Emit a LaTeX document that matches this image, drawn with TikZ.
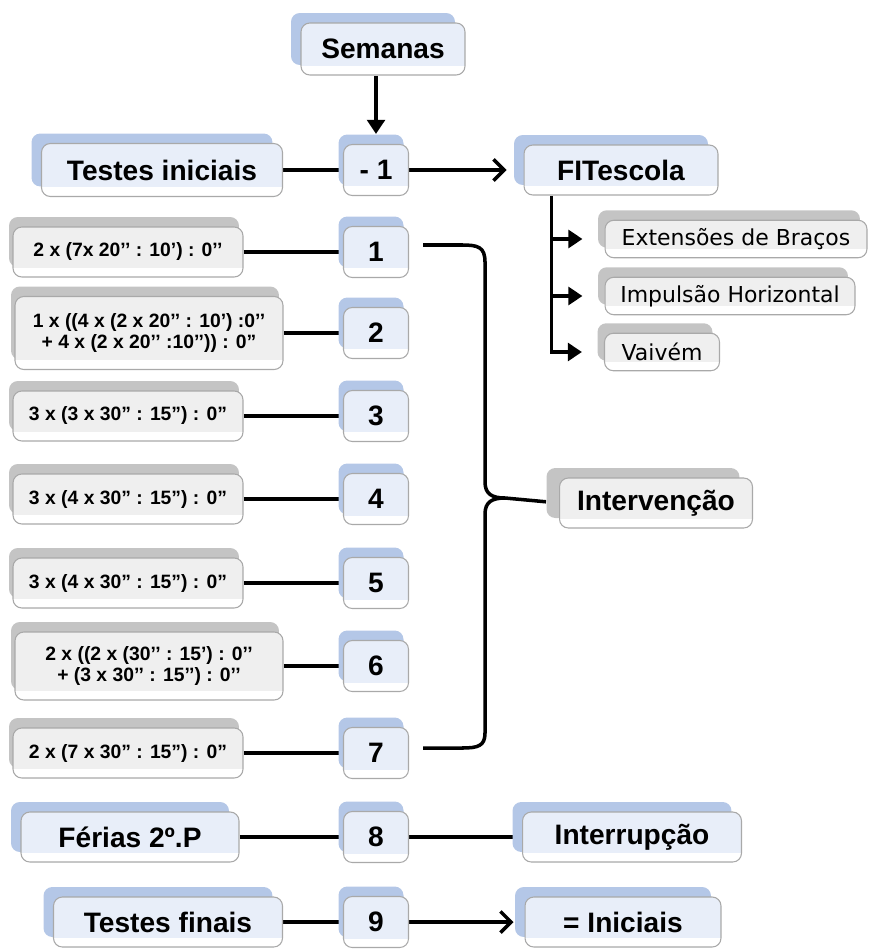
\documentclass[tikz,border=0pt]{standalone}
\usepackage{fontspec}
\setmainfont{Liberation Sans}
\newfontfamily\subfont{DejaVu Sans}
\usetikzlibrary{shadows,arrows.meta,backgrounds}
\definecolor{shblue}{HTML}{B4C7E7}
\definecolor{fblue}{HTML}{E8EEF9}
\definecolor{shgray}{HTML}{C4C4C4}
\definecolor{fgray}{HTML}{EFEFEF}
\definecolor{edgegray}{HTML}{A9A9A9}

\begin{document}
\begin{tikzpicture}[x=0.02cm, y=-0.02cm,
    box/.style={rounded corners=5pt, draw=edgegray, line width=0.6pt, align=center, inner sep=0pt,
        path picture={\fill[white, sharp corners] (path picture bounding box.south west) rectangle ([yshift=0.18cm]path picture bounding box.south east);}},
    bluebox/.style={box, fill=fblue, font=\bfseries\fontsize{16}{19}\selectfont,
        general shadow={shadow xshift=#1, shadow yshift=0.2cm, fill=shblue}},
    bluebox/.default=-0.2cm,
    graybox/.style={box, fill=fgray, general shadow={shadow xshift=#1, shadow yshift=0.2cm, fill=shgray}},
    graybox/.default=-0.2cm,
    numbox/.style={bluebox=-0.1cm, minimum width=1.3cm, minimum height=1.02cm},
    formbox/.style={graybox=-0.08cm, font=\bfseries\fontsize{11}{12.5}\selectfont, minimum height=1cm},
    testbox/.style={graybox=-0.14cm, font=\subfont\fontsize{12.5}{15}\selectfont, minimum height=0.75cm},
    link/.style={line width=2pt},
    barb/.style={link, -{Straight Barb[length=6pt, width=12pt, line width=2pt]}},
    tri/.style={link, -{Triangle[length=8pt, width=10pt]}}]
\useasboundingbox (0,0) rectangle (869,949);

% top
\node[bluebox, minimum width=3.28cm, minimum height=1.04cm] (sem) at (383,49) {Semanas};
\node[bluebox, minimum width=4.82cm, minimum height=1.06cm] (tin) at (162,170) {Testes iniciais};
\node[numbox] (m1) at (376,170) {- 1};
\node[bluebox, minimum width=3.88cm, minimum height=1cm] (fit) at (621,170) {FITescola};

% FITescola tests
\node[testbox, minimum width=5.24cm] (ext) at (736,239) {Extensões de Braços};
\node[testbox, minimum width=5cm] (imp) at (730,296) {Impulsão Horizontal};
\node[testbox, minimum width=2.3cm] (vai) at (662,352) {Vaivém};

% sessions
\node[formbox, minimum width=4.6cm] (r1) at (128,252) {2 x (7x 20’’ : 10’) : 0’’};
\node[formbox, minimum width=5.36cm, minimum height=1.46cm] (r2) at (149,333)
    {1 x ((4 x (2 x 20’’ : 10’) :0’’\\+ 4 x (2 x 20’’ :10’’)) : 0”};
\node[formbox, minimum width=4.6cm] (r3) at (128,416) {3 x (3 x 30” : 15”) : 0”};
\node[formbox, minimum width=4.6cm] (r4) at (128,499) {3 x (4 x 30” : 15”) : 0”};
\node[formbox, minimum width=4.6cm] (r5) at (128,583) {3 x (4 x 30” : 15”) : 0”};
\node[formbox, minimum width=5.36cm, minimum height=1.36cm] (r6) at (149,666)
    {2 x ((2 x (30’’ : 15’) : 0’’\\+ (3 x 30’’ : 15’’) : 0’’};
\node[formbox, minimum width=4.6cm] (r7) at (128,753) {2 x (7 x 30” : 15”) : 0”};
\foreach \i/\y in {1/252,2/333,3/416,4/499,5/583,6/666,7/753,8/837,9/922}
    \node[numbox] (n\i) at (376,\y) {\i};

\node[graybox=-0.26cm, font=\bfseries\fontsize{16}{19}\selectfont, minimum width=3.86cm, minimum height=1cm] (itv) at (656,503) {Intervenção};

% bottom
\node[bluebox, minimum width=4.36cm, minimum height=1cm] (fer) at (130,837) {Férias 2º.P};
\node[bluebox, minimum width=4.38cm, minimum height=1cm] (int) at (632,837) {Interrupção};
\node[bluebox, minimum width=4.58cm, minimum height=1cm] (tfi) at (168,922) {Testes finais};
\node[bluebox, minimum width=3.92cm, minimum height=1cm] (ini) at (623,922) {= Iniciais};

\coordinate (tr) at ([xshift=0.56cm]fit.south west);
\coordinate (btop) at (423,245);
\coordinate (bbot) at (423,748);
\coordinate (btip) at (505,498);

\begin{pgfonlayer}{background}
\draw[tri, shorten >=0.2cm] (sem.south -| m1) -- (m1.north);
\draw[link] (tin) -- (m1);
\draw[barb, shorten >=0.34cm] (m1) -- (fit);
\draw[tri, shorten >=0.44cm] (tr) |- (vai.west);
\draw[tri, shorten >=0.44cm] (tr |- ext) -- (ext.west);
\draw[tri, shorten >=0.44cm] (tr |- imp) -- (imp.west);
\foreach \i in {1,...,7}
    \draw[link] (r\i) -- (n\i);
\draw[link] (fer) -- (n8);
\draw[link] (n8) -- (int);
\draw[link] (tfi) -- (n9);
\draw[barb, shorten >=0.22cm] (n9) -- (ini);
% brace
\draw[link] (btop) -- (462,245) .. controls (478,245) and (485,247) .. (485,262) -- (485,482)
    .. controls (485,494) and (492,498) .. (btip)
    .. controls (492,498) and (485,502) .. (485,514) -- (485,733)
    .. controls (485,746) and (478,748) .. (462,748) -- (bbot);
\draw[link, shorten >=0.26cm] (btip) -- (itv.west);
\end{pgfonlayer}
\end{tikzpicture}
\end{document}
